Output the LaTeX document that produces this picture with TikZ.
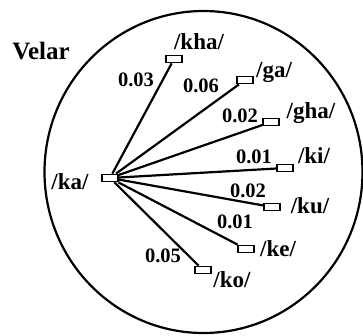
\documentclass[tikz,border=0pt]{standalone}
\usepackage{fontspec}
\setmainfont{Liberation Serif}
\begin{document}
\begin{tikzpicture}[x=1pt,y=-1pt,
  box/.style={draw,line width=1.8pt,minimum width=16pt,minimum height=7pt,inner sep=0pt,fill=white},
  lbl/.style={font=\bfseries\fontsize{23}{23}\selectfont,inner sep=0pt},
  num/.style={font=\bfseries\fontsize{20.5}{20.5}\selectfont,inner sep=0pt},
  link/.style={line width=2.2pt}]
\useasboundingbox (0,0) rectangle (363,335);
\draw[line width=2.2pt] (203.5,172) ellipse [x radius=159, y radius=161];
\node[box] (ka) at (110,178) {};
\node[box] (kha) at (174,59) {};
\node[box] (ga) at (245,80) {};
\node[box] (gha) at (271,122) {};
\node[box] (ki) at (285,168) {};
\node[box] (ku) at (272,207) {};
\node[box] (ke) at (246,249) {};
\node[box] (ko) at (203,270) {};
\foreach \t in {kha,ga,gha,ki,ku,ke,ko} \draw[link] (ka) -- (\t);
\node[lbl,font=\bfseries\fontsize{25}{25}\selectfont] (velar) at (41,51) {Velar};
\node[lbl] (tka) at (70,182) {/ka/};
\node[lbl] (tkha) at (199,42) {/kha/};
\node[lbl] (tga) at (274,72) {/ga/};
\node[lbl] (tgha) at (311,113) {/gha/};
\node[lbl] (tki) at (314,156) {/ki/};
\node[lbl] (tku) at (310,206) {/ku/};
\node[lbl] (tke) at (278,249) {/ke/};
\node[lbl] (tko) at (232,280) {/ko/};
\node[num] (n1) at (136,80) {0.03};
\node[num] (n2) at (201,86) {0.06};
\node[num] (n3) at (240,116) {0.02};
\node[num] (n4) at (254,157) {0.01};
\node[num] (n5) at (248,191) {0.02};
\node[num] (n6) at (235,222) {0.01};
\node[num] (n7) at (163,256) {0.05};
\end{tikzpicture}
\end{document}
